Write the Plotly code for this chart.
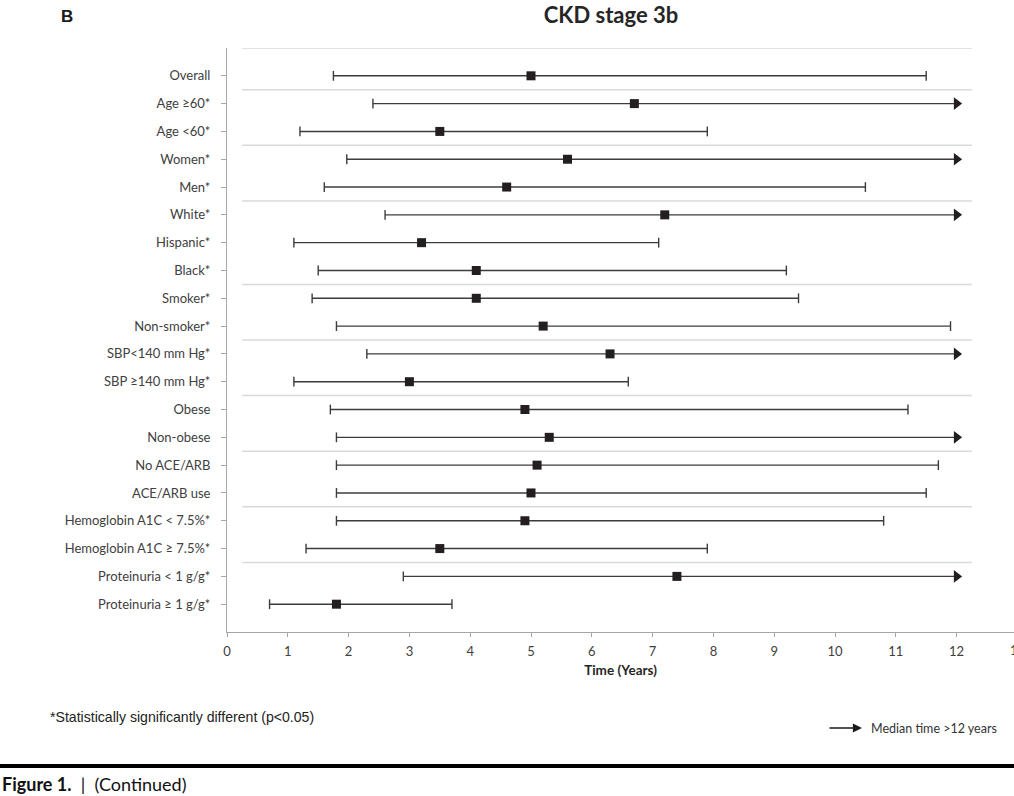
import plotly.graph_objects as go

# 各亚组的中位时间及区间（年）
labels = [
    "Overall", "Age ≥60*", "Age <60*", "Women*", "Men*", "White*", "Hispanic*",
    "Black*", "Smoker*", "Non-smoker*", "SBP<140 mm Hg*", "SBP ≥140 mm Hg*",
    "Obese", "Non-obese", "No ACE/ARB", "ACE/ARB use",
    "Hemoglobin A1C < 7.5%*", "Hemoglobin A1C ≥ 7.5%*",
    "Proteinuria < 1 g/g*", "Proteinuria ≥ 1 g/g*",
]
median = [5.0, 6.7, 3.5, 5.6, 4.6, 7.2, 3.2, 4.1, 4.1, 5.2,
          6.3, 3.0, 4.9, 5.3, 5.1, 5.0, 4.9, 3.5, 7.4, 1.8]
lower = [1.75, 2.4, 1.2, 1.97, 1.6, 2.6, 1.1, 1.5, 1.4, 1.8,
         2.3, 1.1, 1.7, 1.8, 1.8, 1.8, 1.8, 1.3, 2.9, 0.7]
# 上限超过12年的画成箭头
upper = [11.5, 12, 7.9, 12, 10.5, 12, 7.1, 9.2, 9.4, 11.9,
         12, 6.6, 11.2, 12, 11.7, 11.5, 10.8, 7.9, 12, 3.7]
beyond_12 = [False, True, False, True, False, True, False, False, False, False,
             True, False, False, True, False, False, False, False, True, False]
# 分组分隔线的位置
separators = [0, 1.5, 3.5, 5.5, 8.5, 10.5, 12.5, 14.5, 16.5, 18.5]
sep_x = [0.25, 12.25]

rows = list(range(1, len(labels) + 1))

W, H = 1014, 796
L, R, T, B = 227, 0, 48, 164


def px(x):
    return (x - L) / (W - L - R)


def py(y):
    return (H - B - y) / (H - T - B)


fig = go.Figure()

# 分隔线
sx, sy = [], []
for s in separators:
    sx += [sep_x[0], sep_x[1], None]
    sy += [s, s, None]
fig.add_trace(go.Scatter(x=sx, y=sy, mode='lines', cliponaxis=False,
                         line=dict(color='#d9d9d9', width=1.5), hoverinfo='skip'))

# 区间线
lx, ly = [], []
for r, lo, hi in zip(rows, lower, upper):
    lx += [lo, hi, None]
    ly += [r, r, None]
fig.add_trace(go.Scatter(x=lx, y=ly, mode='lines',
                         line=dict(color='#3c3c3c', width=1.4), hoverinfo='skip'))

# 端点短竖线
cx, cy = [], []
for r, lo, hi, arr in zip(rows, lower, upper, beyond_12):
    cx.append(lo)
    cy.append(r)
    if not arr:
        cx.append(hi)
        cy.append(r)
fig.add_trace(go.Scatter(x=cx, y=cy, mode='markers', hoverinfo='skip',
                         marker=dict(symbol='line-ns', size=7,
                                     line=dict(color='#3c3c3c', width=1.4))))

# 箭头
ax_ = [hi for hi, arr in zip(upper, beyond_12) if arr]
ay_ = [r for r, arr in zip(rows, beyond_12) if arr]
fig.add_trace(go.Scatter(x=ax_, y=ay_, mode='markers', cliponaxis=False, hoverinfo='skip',
                         marker=dict(symbol='triangle-right', size=11, color='#231f20')))

# 中位数方块
fig.add_trace(go.Scatter(x=median, y=rows, mode='markers',
                         marker=dict(symbol='square', size=9, color='#231f20')))

x_range = [0, (W - L - R) / 60.8]

fig.update_layout(
    width=W, height=H,
    margin=dict(l=L, r=R, t=T, b=B),
    paper_bgcolor='white', plot_bgcolor='white',
    showlegend=False,
    font=dict(family='Lato', size=13, color='#404040'),
    title=dict(text='<b>CKD stage 3b</b>', x=611 / W, xref='container', xanchor='center',
               y=1 - 15 / H, yref='container', yanchor='middle',
               font=dict(family='Lato', size=22, color='#262626')),
    xaxis=dict(range=x_range, tickmode='array', tickvals=list(range(0, 13)),
               showgrid=False, zeroline=False, showline=True, linecolor='#a6a6a6',
               linewidth=1, ticks='outside', ticklen=4, tickcolor='#a6a6a6',
               ticklabelstandoff=3,
               title=dict(text='<b>Time (Years)</b>', standoff=7,
                          font=dict(family='Lato', size=13.5, color='#262626'))),
    yaxis=dict(range=[21, 0], tickmode='array', tickvals=rows, ticktext=labels,
               showgrid=False, zeroline=False, showline=True, linecolor='#a6a6a6',
               linewidth=1, ticks='outside', ticklen=5, tickcolor='#a6a6a6',
               ticklabelstandoff=8),
)

annotations = [
    dict(text='<b>B</b>', x=px(67), y=py(17), font=dict(family='Liberation Sans', size=17, color='#1a1a1a')),
    dict(text='13', x=13 / x_range[1], y=py(650), font=dict(family='Lato', size=13, color='#404040')),
    dict(text='*Statistically significantly different (p<0.05)', x=px(48), y=py(717), xanchor='left',
         font=dict(family='Liberation Sans', size=14.1, color='#222222')),
    dict(text='Median time >12 years', x=px(869), y=py(728), xanchor='left',
         font=dict(family='Lato', size=12.5, color='#333333')),
    dict(text='<b>Figure 1.</b>\u00a0\u00a0|\u00a0\u00a0(Continued)', x=px(0), y=py(784), xanchor='left',
         font=dict(family='Lato', size=18, color='#111111')),
]
for a in annotations:
    a.setdefault('xanchor', 'center')
    fig.add_annotation(xref='paper', yref='paper', showarrow=False, yanchor='middle', **a)

# 图例中的箭头
fig.add_annotation(xref='paper', yref='paper', x=px(862), y=py(728), ax=-34, ay=0,
                   text='', showarrow=True,
                   arrowhead=2, arrowsize=1.3, arrowwidth=1.4, arrowcolor='#1a1a1a')

# 底部粗线
fig.add_shape(type='line', xref='paper', yref='paper', x0=px(0), x1=px(W), y0=py(766), y1=py(766),
              line=dict(color='black', width=4))

# 去掉页面默认边距，让图贴住左上角
fig.write_html("out.html", config={'displayModeBar': False},
               post_script="document.body.style.margin='0';")
